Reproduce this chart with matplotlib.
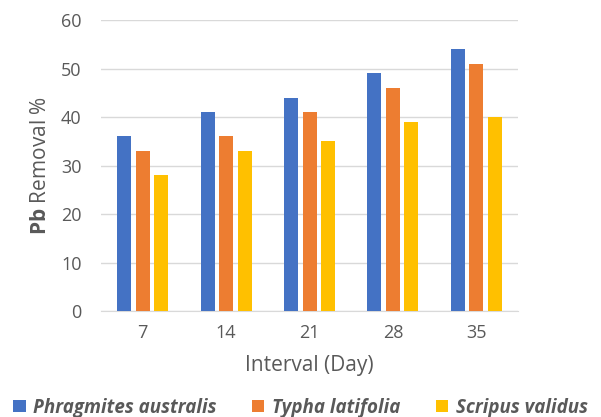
import matplotlib
matplotlib.use("Agg")
import numpy as np
import matplotlib.pyplot as plt
from matplotlib.patches import Patch

# data
intervals = ["7", "14", "21", "28", "35"]
phragmites = [36, 41, 44, 49, 54]
typha = [33, 36, 41, 46, 51]
scripus = [28, 33, 35, 39, 40]
series_names = ["Phragmites australis", "Typha latifolia", "Scripus validus"]
colors = ["#4472C4", "#ED7D31", "#FFC000"]

plt.rcParams["font.family"] = ["Open Sans", "DejaVu Sans"]
plt.rcParams["mathtext.fontset"] = "custom"
plt.rcParams["mathtext.bf"] = "Open Sans:bold"
plt.rcParams["mathtext.rm"] = "Open Sans"
text_color = "#595959"

fig = plt.figure(figsize=(6.01, 4.17), dpi=100)
ax = fig.add_axes([0.168, 0.254, 0.694, 0.698])

x = np.arange(len(intervals))
width = 0.168
step = 0.222
for i, (vals, c) in enumerate(zip([phragmites, typha, scripus], colors)):
    ax.bar(x + (i - 1) * step, vals, width=width, color=c, zorder=3)

ax.set_xlim(-0.5, len(intervals) - 0.5)
ax.set_ylim(0, 60)
ax.set_yticks(range(0, 61, 10))
ax.set_xticks(x)
ax.set_xticklabels(intervals)
ax.grid(axis="y", color="#D9D9D9", linewidth=1, zorder=0)
for s in ["top", "right", "left"]:
    ax.spines[s].set_visible(False)
ax.spines["bottom"].set_color("#D9D9D9")
ax.tick_params(axis="both", length=0, labelsize=13, colors=text_color)
ax.tick_params(axis="y", pad=14)
ax.tick_params(axis="x", pad=9)

ax.set_xlabel("Interval (Day)", fontsize=15, color=text_color, labelpad=10)
ax.set_ylabel(r"$\mathbf{Pb}$ Removal %", fontsize=15, color=text_color, labelpad=7)

handles = [Patch(facecolor=c, edgecolor="none") for c in colors]
leg = fig.legend(handles, series_names, loc="center", bbox_to_anchor=(0.5, 0.022),
                 ncol=3, frameon=False, handlelength=0.65, handleheight=0.65,
                 handletextpad=0.4, columnspacing=1.9,
                 prop={"size": 13.5, "weight": "bold", "style": "italic"})
for t in leg.get_texts():
    t.set_color(text_color)

fig.savefig("out.png", dpi=100)
